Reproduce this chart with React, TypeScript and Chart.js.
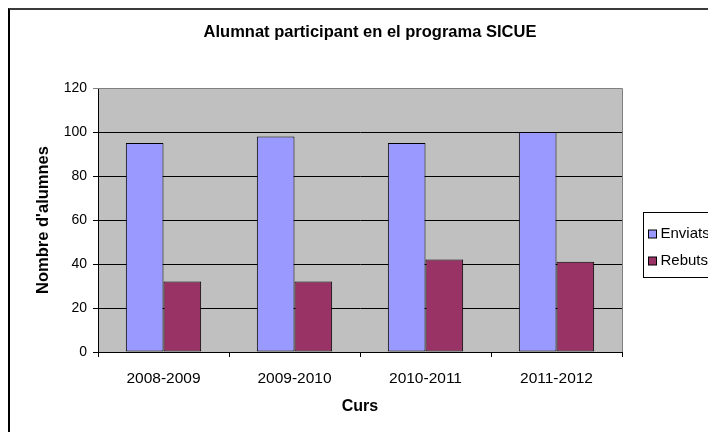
import React, { useEffect, useRef } from 'react';
import { Chart, registerables } from 'chart.js';
Chart.register(...registerables);

const chartTitle = 'Alumnat participant en el programa SICUE';
const xTitle = 'Curs';
const yTitle = "Nombre d'alumnes";
const categories = ['2008-2009', '2009-2010', '2010-2011', '2011-2012'];
const seriesNames = ['Enviats', 'Rebuts'];
const enviats = [95, 98, 95, 100];
const rebuts = [32, 32, 42, 41];
const yTicks = [0, 20, 40, 60, 80, 100, 120];
const seriesColors = ['#9999FF', '#993366'];

const FONT = '"Liberation Sans", Arial, sans-serif';

export default function App() {
  const ref = useRef<HTMLCanvasElement>(null);
  useEffect(() => {
    document.documentElement.style.overflow = 'hidden';
    document.body.style.overflow = 'hidden';
    const decor = {
      id: 'decor',
      beforeDraw(chart: any) {
        const { ctx, chartArea: a } = chart;
        ctx.save();
        ctx.fillStyle = '#C0C0C0';
        ctx.fillRect(a.left, a.top, a.right - a.left, a.bottom - a.top);
        ctx.restore();
      },
      beforeDatasetsDraw(chart: any) {
        const { ctx, chartArea: a } = chart;
        ctx.save();
        ctx.strokeStyle = '#808080';
        ctx.lineWidth = 1;
        ctx.beginPath();
        ctx.moveTo(a.left, Math.round(a.top) + 0.5);
        ctx.lineTo(Math.round(a.right) + 0.5, Math.round(a.top) + 0.5);
        ctx.lineTo(Math.round(a.right) + 0.5, a.bottom);
        ctx.stroke();
        ctx.restore();
      },
      afterDraw(chart: any) {
        const { ctx, chartArea: a } = chart;
        ctx.save();
        // title
        ctx.fillStyle = '#000';
        ctx.font = 'bold 16.5px ' + FONT;
        ctx.textAlign = 'center';
        ctx.textBaseline = 'middle';
        ctx.fillText(chartTitle, (a.left + a.right) / 2 + 10, 22);
        // legend
        const lx = 633.5, ly = 202.5;
        ctx.strokeStyle = '#000';
        ctx.lineWidth = 1;
        ctx.strokeRect(lx, ly, 200, 65);
        ctx.font = '15px ' + FONT;
        ctx.textAlign = 'left';
        chart.data.datasets.forEach((ds: any, i: number) => {
          const cy = 224 + i * 27;
          ctx.fillStyle = ds.backgroundColor;
          ctx.fillRect(lx + 5, cy - 4, 8, 8);
          ctx.strokeRect(lx + 5, cy - 4, 8, 8);
          ctx.fillStyle = '#000';
          ctx.fillText(ds.label, lx + 17, cy);
        });
        // stray vertical rule at right edge
        ctx.lineWidth = 2;
        ctx.beginPath();
        ctx.moveTo(703, 90);
        ctx.lineTo(703, 288);
        ctx.stroke();
        ctx.lineWidth = 1;
        ctx.beginPath();
        [91, 134, 177, 220, 263, 287].forEach((y) => {
          ctx.moveTo(700, y + 0.5);
          ctx.lineTo(703, y + 0.5);
        });
        ctx.stroke();
        ctx.restore();
      },
    };
    const chart = new Chart(ref.current!, {
      type: 'bar',
      data: {
        labels: categories,
        datasets: [
          { label: seriesNames[0], data: enviats, backgroundColor: seriesColors[0], borderColor: '#000', borderWidth: 1, borderSkipped: false },
          { label: seriesNames[1], data: rebuts, backgroundColor: seriesColors[1], borderColor: '#000', borderWidth: 1, borderSkipped: false },
        ],
      },
      options: {
        responsive: false,
        animation: false,
        layout: { padding: { left: 0, top: 78, right: 94, bottom: 0 } },
        datasets: { bar: { categoryPercentage: 0.575, barPercentage: 1 } },
        plugins: { legend: { display: false }, title: { display: false }, tooltip: { enabled: false } },
        scales: {
          x: {
            offset: true,
            grid: { offset: true, drawOnChartArea: false, drawTicks: true, tickLength: 5, color: '#000' },
            border: { display: true, color: '#000', width: 1 },
            ticks: { color: '#000', font: { family: FONT, size: 15.5 }, padding: 12 },
            title: { display: true, text: xTitle, color: '#000', font: { family: FONT, size: 16, weight: 'bold' }, padding: { top: 0, bottom: 16 } },
            afterFit(scale: any) { scale.height = 80; },
          },
          y: {
            min: 0,
            max: 120,
            afterBuildTicks(scale: any) { scale.ticks = yTicks.map((v) => ({ value: v })); },
            grid: { drawTicks: true, tickLength: 5, color: (c: any) => (c.tick && c.tick.value === 120 ? '#808080' : '#000') },
            border: { display: true, color: '#000', width: 1 },
            ticks: { color: '#000', font: { family: FONT, size: 14 }, padding: 6 },
            title: { display: true, text: yTitle, color: '#000', font: { family: FONT, size: 16.5, weight: 'bold' }, padding: { top: 24, bottom: 0 } },
            afterFit(scale: any) { scale.width = 88; },
          },
        },
      },
      plugins: [decor],
    });
    return () => chart.destroy();
  }, []);
  return (
    <div style={{ width: 708, height: 424, borderLeft: '2px solid #000', borderTop: '2px solid #3a3a3a', boxSizing: 'border-box', background: '#fff' }}>
      <canvas ref={ref} width={706} height={422} style={{ display: 'block' }} />
    </div>
  );
}
